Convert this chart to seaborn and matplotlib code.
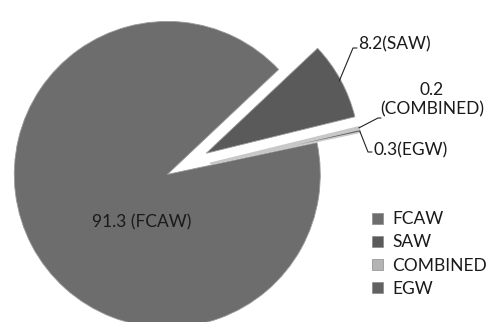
import numpy as np
import matplotlib
matplotlib.use("Agg")
import matplotlib.pyplot as plt
import seaborn as sns

# data (percent)
processes = ["FCAW", "SAW", "COMBINED", "EGW"]
shares = [91.3, 8.2, 0.2, 0.3]
label_texts = ["91.3 (FCAW)", "8.2(SAW)", "0.2\n(COMBINED)", "0.3(EGW)"]

sns.set_theme(style="white")
plt.rcParams['font.family'] = ['Lato', 'DejaVu Sans']

colors = ["#6d6d6d", "#5a5a5a", "#b4b4b4", "#616161"]
explode = [0.02, 0.27, 0.27, 0.27]

fig = plt.figure(figsize=(4.97, 3.22), dpi=100)
ax = fig.add_axes([0, 0, 1, 1])

wedges, _ = ax.pie(shares, colors=colors, explode=explode, startangle=12,
                   counterclock=False, radius=1.0,
                   wedgeprops=dict(edgecolor="#9a9a9a", linewidth=0.6))
# thin slices get a light bevel-like outline so they stay visible
for w in wedges[2:]:
    w.set_edgecolor("#c8c8c8")
    w.set_linewidth(1.2)

# frame in pixel units: center near (170, 172) px, radius ~153 px
R = 153.0
CX, CY = 170.0, 173.0
ax.set_xlim(-CX / R, (497 - CX) / R)
ax.set_ylim(-(322 - CY) / R, CY / R)
ax.set_aspect("equal")
ax.axis("off")


def px(x, y):
    # pixel position (from top-left) -> data coords
    return (x - CX) / R, (CY - y) / R


def edge_point(w, frac=1.0):
    th = np.deg2rad((w.theta1 + w.theta2) / 2)
    cx, cy = w.center
    return cx + w.r * frac * np.cos(th), cy + w.r * frac * np.sin(th)


def leader(w, knee, end, frac=1.0):
    x0, y0 = edge_point(w, frac)
    kx, ky = px(*knee)
    ex, ey = px(*end)
    ax.plot([x0, kx, ex], [y0, ky, ey], color="#222222", lw=0.8)


txt = dict(fontsize=12.5, color="#1a1a1a")

# FCAW label inside the big slice
ax.text(*px(142, 222), label_texts[0], ha="center", va="center", **txt)

# SAW
leader(wedges[1], (353, 48), (357, 48), 0.99)
ax.text(*px(358, 44), label_texts[1], ha="left", va="center", **txt)

# COMBINED
leader(wedges[2], (378, 118), (381, 118), 1.0)
ax.text(*px(432, 100), label_texts[2], ha="center", va="center",
        linespacing=1.25, **txt)

# EGW
leader(wedges[3], (368, 152), (372, 152), 1.0)
ax.text(*px(373, 150), label_texts[3], ha="left", va="center", **txt)

handles = [plt.Rectangle((0, 0), 1, 1, facecolor=c, edgecolor="#8a8a8a", lw=0.5)
           for c in colors]
fig.legend(handles, processes, loc="upper left",
           bbox_to_anchor=(360 / 497, 1 - 199 / 322),
           frameon=False, fontsize=12.5, handlelength=0.6, handleheight=0.6,
           handletextpad=0.55, labelspacing=0.42, borderpad=0.2,
           labelcolor="#1a1a1a")

fig.savefig("out.png", dpi=100)
